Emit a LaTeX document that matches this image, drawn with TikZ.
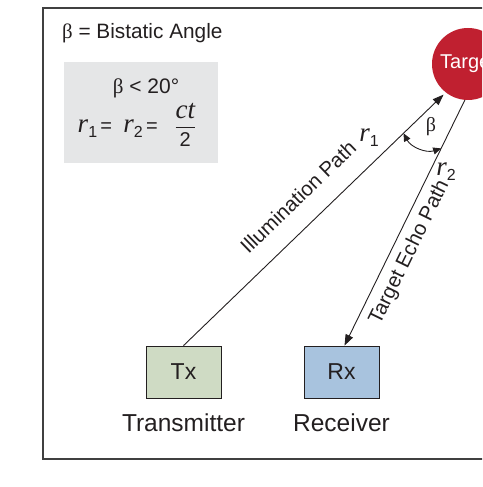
\documentclass[tikz,border=0pt]{standalone}
\usepackage{fontspec}
\setmainfont{Liberation Sans}
\newfontfamily\tms{Liberation Serif}
\usetikzlibrary{arrows.meta,positioning,calc}
\definecolor{targetred}{RGB}{192,32,48}
\definecolor{txgreen}{RGB}{207,219,196}
\definecolor{rxblue}{RGB}{168,195,222}
\definecolor{boxgray}{RGB}{229,230,231}
\definecolor{ink}{RGB}{35,31,32}
\newcommand{\rvar}[1]{{\tms\itshape\fontsize{27}{27}\selectfont #1}}
\newcommand{\rsub}[1]{\raisebox{-5pt}{\fontsize{16}{16}\selectfont #1}}

\tikzset{
  unit/.style={draw=ink, line width=0.8pt, minimum width=75pt, minimum height=52pt,
    font=\fontsize{23}{23}\selectfont},
  caption/.style={font=\fontsize{24.5}{24.5}\selectfont, inner sep=0pt},
  pathlabel/.style={sloped, font=\fontsize{20.5}{20.5}\selectfont, inner sep=0pt},
  ray/.style={draw=ink, line width=0.9pt, -{Triangle[length=11pt,width=8pt]}},
}

\begin{document}
\begin{tikzpicture}[x=1pt, y=1pt, text=ink]
  \path[use as bounding box, clip] (0,0) rectangle (482,487);
  % frame
  \draw[black!75, line width=1.2pt] (600,479) -- (43,479) -- (43,28) -- (600,28);

  % legend
  \node[anchor=base west, inner sep=0pt, font=\fontsize{20.8}{20.8}\selectfont] (legend) at (62,448)
    {{\tms β} = Bistatic Angle};
  \fill[boxgray] (64,324) rectangle (218,425);
  \node[anchor=base, inner sep=0pt, font=\fontsize{21}{21}\selectfont] (limit) at (146,393)
    {{\tms β} < 20°};
  \node[inner sep=0pt, font=\fontsize{20}{20}\selectfont] (range) at (137,362)
    {\rvar{r}\rsub{1}\,= \ \rvar{r}\rsub{2}\,= \ \ $\displaystyle\frac{\hbox{\rvar{ct}}}{\hbox{2}}$};

  % target, transmitter and receiver
  \node[circle, fill=targetred, minimum size=72pt, inner sep=0pt, text=white,
    font=\fontsize{20}{20}\selectfont] (target) at (468,423) {Target};
  \node[unit, fill=txgreen] (tx) at (183.5,115) {Tx};
  \node[unit, fill=rxblue] (rx) at (341.5,115) {Rx};
  \node[caption, below=15pt of tx] (txlabel) {Transmitter};
  \node[caption, below=15pt of rx] (rxlabel) {Receiver};

  % illumination and echo paths
  \coordinate (rxin) at ([xshift=3pt]rx.north);
  \draw[ray, shorten >=3pt] (tx.north) -- node[pathlabel, above, outer sep=20pt, pos=0.51] (illum)
    {Illumination Path} (target.232);
  \draw[ray] (target.265) -- node[pathlabel, below, outer sep=8pt, pos=0.59] (echo)
    {Target Echo Path} (rxin);
  \node (rone) at (369,349) {\rvar{r}\rsub{1}};
  \node (rtwo) at (446,315) {\rvar{r}\rsub{2}};

  % bistatic angle
  \coordinate (b1) at ($(tx.north)!0.839!(target.232)$);
  \coordinate (b2) at ($(target.265)!0.197!(rxin)$);
  \draw[ink, line width=0.9pt, {Triangle[length=8pt,width=7pt]}-{Triangle[length=8pt,width=7pt]}]
    (b1) to[bend right=40] (b2);
  \node[font=\fontsize{20}{20}\selectfont] (beta) at (431,360) {\tms β};
\end{tikzpicture}
\end{document}
